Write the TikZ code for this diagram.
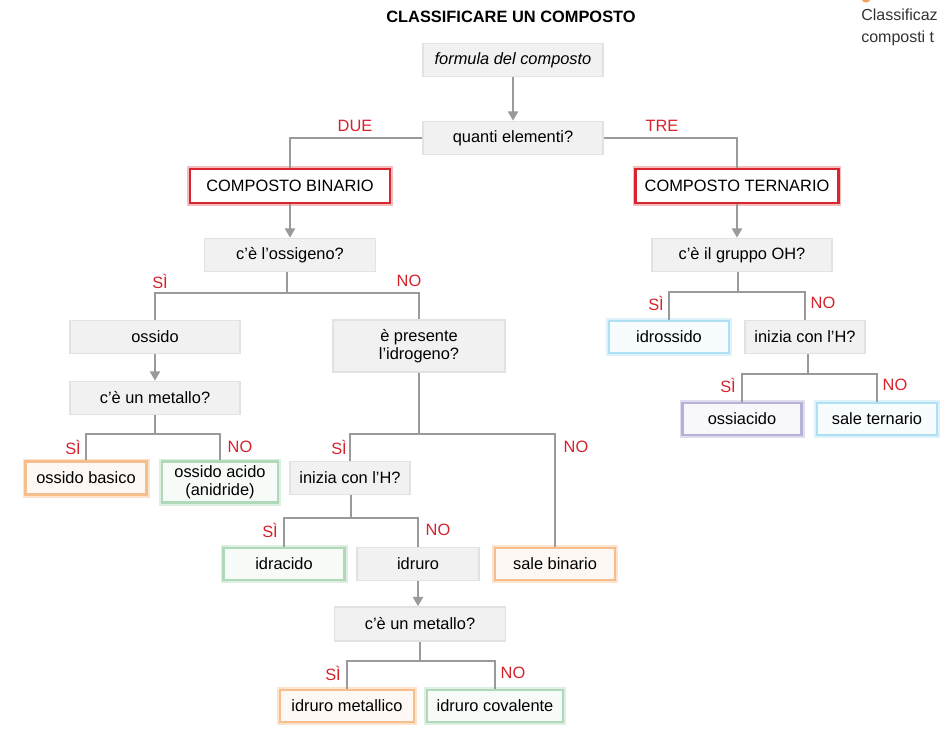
\documentclass[tikz,border=0pt]{standalone}
\usepackage{fontspec}
\setmainfont{Liberation Sans}
\usetikzlibrary{arrows.meta}
\definecolor{lineGrey}{HTML}{9A9A9A}
\definecolor{boxGrey}{HTML}{F1F1F1}
\definecolor{edgeGrey}{HTML}{E2E2E2}
\definecolor{answerRed}{HTML}{D5232C}
\definecolor{frameRed}{HTML}{D9252F}
\definecolor{orangeGlow}{HTML}{F2A15C}
\definecolor{greenGlow}{HTML}{8DC99B}
\definecolor{blueGlow}{HTML}{8ED3EF}
\definecolor{purpleGlow}{HTML}{9A8FC6}

\begin{document}
\begin{tikzpicture}
[x=0.75pt,y=-0.75pt,
  font=\fontsize{12.3}{13.6}\selectfont,
  lineDecorate/.style={draw=lineGrey,line width=2pt},
  arrowDecorate/.style={lineDecorate,-{Triangle[width=7.5pt,length=7pt]}},
  greyDecorate/.style={fill=boxGrey,draw=edgeGrey,line width=1.2pt,inner sep=0pt,align=center},
  redDecorate/.style={fill=white,draw=frameRed,line width=2.2pt,inner sep=0pt,
    preaction={draw=frameRed!30,line width=4pt}},
  resultDecorate/.style={fill=#1!7!white,draw=#1!70!white,line width=1.8pt,inner sep=0pt,
    align=center,preaction={draw=#1!30!white,line width=4.5pt}},
  answerDecorate/.style={text=answerRed,inner sep=0pt}]
\useasboundingbox (0,0) rectangle (948,745);
%% title and caption
\node (title) at (511,17) [font=\fontsize{12.3}{14}\selectfont\bfseries] {CLASSIFICARE UN COMPOSTO};
\fill[orangeGlow] (866,-2) circle[radius=3.5pt];
\node (caption) at (861,27) [anchor=west,align=left,text=black!80,inner sep=0pt,
  font=\fontsize{12}{16.5}\selectfont] {Classificaz\\composti t};
%% question boxes
\foreach \nodename/\x/\y/\w/\h/\txt in {
  formula/513/60/180/33/{\itshape formula del composto},
  quanti/513/138/180/33/{quanti elementi?},
  ossigeno/290/255/171/33/{c’è l’ossigeno?},
  ossido/155/337/170/33/{ossido},
  metalloA/155/398/170/33/{c’è un metallo?},
  presente/419/346/172/52/{è presente\\l’idrogeno?},
  inizia/350/478/120/33/{inizia con l’H?},
  idruro/418/564/122/33/{idruro},
  metalloB/420/624/171/34/{c’è un metallo?},
  gruppo/742/255/180/33/{c’è il gruppo OH?},
  iniziaT/805/337/120/33/{inizia con l’H?}}
{
  \node (\nodename) at (\x,\y) [greyDecorate,minimum width=\w*0.75pt,minimum height=\h*0.75pt] {\txt};
}
%% framed boxes
\foreach \nodename/\x/\y/\w/\txt in {
  binario/290/186/200/{COMPOSTO BINARIO},
  ternario/737/186/203/{COMPOSTO TERNARIO}}
{
  \node (\nodename) at (\x,\y) [redDecorate,minimum width=\w*0.75pt,minimum height=34*0.75pt] {\txt};
}
%% result boxes
\foreach \nodename/\x/\y/\w/\h/\glow/\txt in {
  basico/86/478/121/33/orangeGlow/{ossido basico},
  acido/220/482/116/41/greenGlow/{ossido acido\\(anidride)},
  idracido/284/564/121/32/greenGlow/{idracido},
  salebin/555/564/120/32/orangeGlow/{sale binario},
  metallico/347/706/134/32/orangeGlow/{idruro metallico},
  covalente/495/706/136/32/greenGlow/{idruro covalente},
  idrossido/669/337/120/32/blueGlow/{idrossido},
  ossiacido/742/419/119/32/purpleGlow/{ossiacido},
  saleter/877/419/120/32/blueGlow/{sale ternario}}
{
  \node (\nodename) at (\x,\y) [resultDecorate=\glow,minimum width=\w*0.75pt,minimum height=\h*0.75pt] {\txt};
}
%% answers
\foreach \nodename/\x/\y/\txt in {
  due/355/126/DUE, tre/662/126/TRE,
  siA/160/281/SÌ, noA/409/281/NO,
  siB/73/447/SÌ, noB/240/447/NO,
  siC/339/447/SÌ, noC/576/447/NO,
  siD/270/530/SÌ, noD/438/530/NO,
  siE/333/673/SÌ, noE/513/673/NO,
  siF/656/303/SÌ, noF/823/303/NO,
  siG/728/385/SÌ, noG/895/385/NO}
{
  \node (\nodename) at (\x,\y) [answerDecorate] {\txt};
}
%% arrows
\foreach \startnode/\endnode in {
  formula/quanti, binario/ossigeno, ternario/gruppo, ossido/metalloA, idruro/metalloB}
{
  \draw[arrowDecorate] (\startnode.south) -- (\startnode.south |- \endnode.north);
}
%% first split
\draw[lineDecorate] (binario.north) |- (quanti.west);
\draw[lineDecorate] (ternario.north) |- (quanti.east);
%% forks
\foreach \parent/\jx/\jy/\yes/\no in {
  ossigeno/287/293/ossido/presente,
  metalloA/155/434/basico/acido,
  presente/419/434/inizia/salebin,
  inizia/351/518/idracido/idruro,
  metalloB/420/661/metallico/covalente,
  gruppo/738/292/idrossido/iniziaT,
  iniziaT/808/374/ossiacido/saleter}
{
  \coordinate (fork) at (\jx,\jy);
  \draw[lineDecorate] (\parent.south -| fork) -- (fork);
  \draw[lineDecorate] (\yes.north) |- (fork) -| (\no.north);
}
\end{tikzpicture}
\end{document}
